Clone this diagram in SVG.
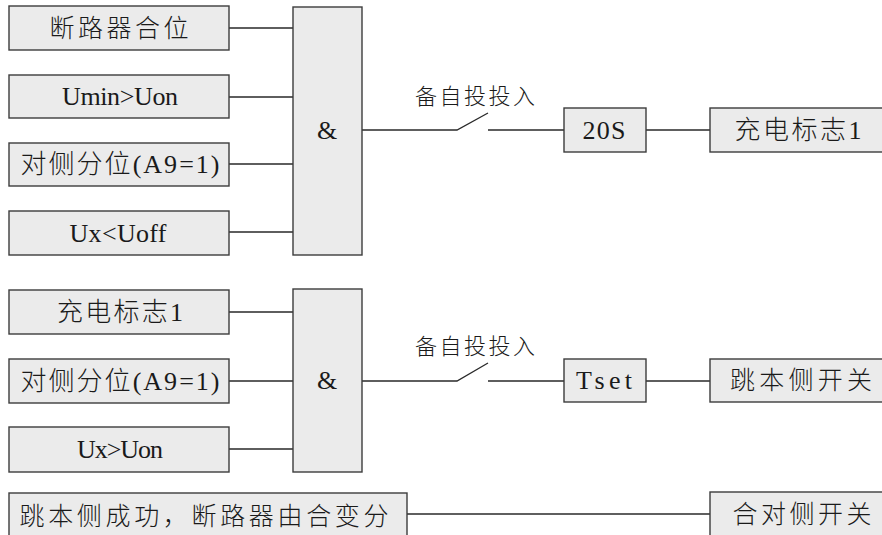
<svg xmlns="http://www.w3.org/2000/svg" width="882" height="535" viewBox="0 0 882 535">
<style>
.box{fill:#ebebeb;stroke:#3c3c3c;stroke-width:1.4}
.wire{fill:none;stroke:#2a2a2a;stroke-width:1.3}
.t{font-family:"Liberation Serif","Noto Sans CJK SC",serif;font-size:26px;font-weight:300;fill:#1a1a1a;text-anchor:middle}
.c{font-family:"Noto Sans CJK SC",sans-serif;font-size:25px;font-weight:300;fill:#1a1a1a;text-anchor:middle}
.l{font-family:"Noto Sans CJK SC",sans-serif;font-size:22px;font-weight:300;fill:#1a1a1a;text-anchor:middle}
</style>
<rect width="882" height="535" fill="#ffffff"/>
<g id="connectors">
<path class="wire" d="M229 28H293M229 97H293M229 164H293M229 232H293"/>
<path class="wire" d="M362 130H457L488 113M488 130H564M646 130H710"/>
<path class="wire" d="M229 312H293M229 381H293M229 449H293"/>
<path class="wire" d="M362 381H457L488 363M488 381H564M646 381H710"/>
<path class="wire" d="M407 514H710"/>
<text class="l" x="475" y="104" textLength="120" lengthAdjust="spacing">备自投投入</text>
<text class="l" x="475" y="354" textLength="120" lengthAdjust="spacing">备自投投入</text>
</g>
<g id="in1"><rect class="box" x="9" y="6" width="220" height="44"/><text class="c" x="119" y="37" textLength="139" lengthAdjust="spacing">断路器合位</text></g>
<g id="in2"><rect class="box" x="9" y="75" width="220" height="43"/><text class="t" x="120" y="105" textLength="116" lengthAdjust="spacing">Umin&gt;Uon</text></g>
<g id="in3"><rect class="box" x="9" y="143" width="220" height="43"/><text class="t" x="120" y="173" textLength="199" lengthAdjust="spacing">对侧分位(A9=1)</text></g>
<g id="in4"><rect class="box" x="9" y="211" width="220" height="44"/><text class="t" x="118" y="242" textLength="97" lengthAdjust="spacing">Ux&lt;Uoff</text></g>
<g id="and1"><rect class="box" x="293" y="7" width="69" height="248"/><text class="t" x="327" y="139">&amp;</text></g>
<g id="t20s"><rect class="box" x="564" y="108" width="82" height="44"/><text class="t" x="604" y="139" textLength="43" lengthAdjust="spacing">20S</text></g>
<g id="out1"><rect class="box" x="710" y="108" width="180" height="44"/><text class="t" x="798" y="139" textLength="127" lengthAdjust="spacing">充电标志1</text></g>
<g id="in5"><rect class="box" x="9" y="290" width="220" height="44"/><text class="t" x="120" y="321" textLength="126" lengthAdjust="spacing">充电标志1</text></g>
<g id="in6"><rect class="box" x="9" y="359" width="220" height="44"/><text class="t" x="120" y="390" textLength="199" lengthAdjust="spacing">对侧分位(A9=1)</text></g>
<g id="in7"><rect class="box" x="9" y="427" width="220" height="45"/><text class="t" x="120" y="458" textLength="86" lengthAdjust="spacing">Ux&gt;Uon</text></g>
<g id="and2"><rect class="box" x="293" y="289" width="69" height="183"/><text class="t" x="327" y="389">&amp;</text></g>
<g id="tset"><rect class="box" x="564" y="359" width="82" height="43"/><text class="t" x="604" y="389" textLength="56" lengthAdjust="spacing">Tset</text></g>
<g id="out2"><rect class="box" x="710" y="359" width="180" height="43"/><text class="c" x="801" y="389" textLength="142" lengthAdjust="spacing">跳本侧开关</text></g>
<g id="in8"><rect class="box" x="9" y="493" width="398" height="50"/><text class="c" x="204" y="525" textLength="369" lengthAdjust="spacing">跳本侧成功，断路器由合变分</text></g>
<g id="out3"><rect class="box" x="710" y="492" width="180" height="50"/><text class="c" x="802" y="523" textLength="139" lengthAdjust="spacing">合对侧开关</text></g>
</svg>
